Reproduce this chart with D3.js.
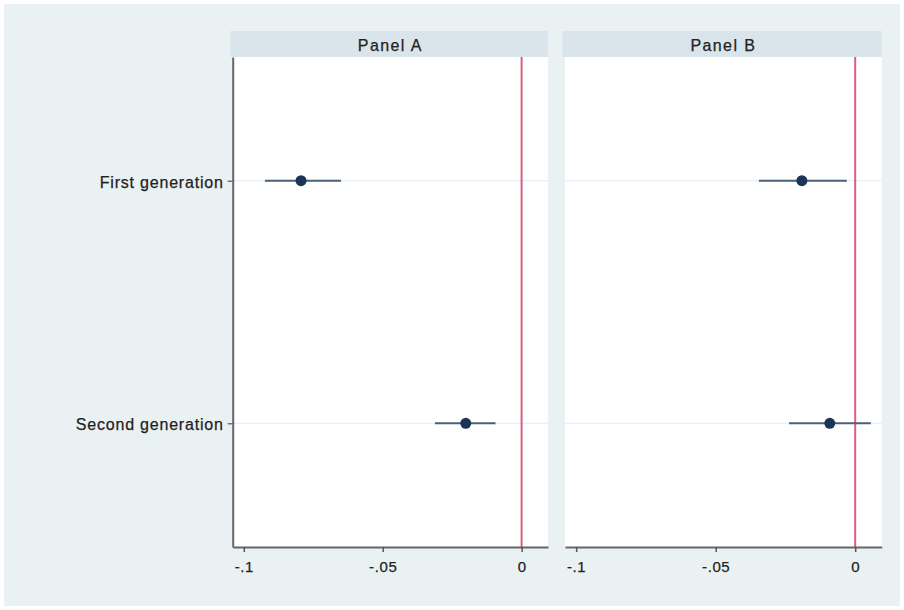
<!DOCTYPE html>
<html><head><meta charset="utf-8">
<script src="https://cdn.jsdelivr.net/npm/d3@7"></script>
<style>html,body{margin:0;padding:0;background:#fff;}svg{display:block;}</style>
</head><body>
<script>
const categories = ["First generation", "Second generation"];
const panels = ["Panel A", "Panel B"];
const estA = [-0.0794, -0.0201];
const loA  = [-0.0924, -0.0312];
const hiA  = [-0.0650, -0.0094];
const estB = [-0.0191, -0.0091];
const loB  = [-0.0345, -0.0237];
const hiB  = [-0.0030, 0.0056];
const xTicks = [-0.1, -0.05, 0];
const xTickLabels = ["-.1", "-.05", "0"];
const refValue = 0;

(function () {
const W = 904, H = 610;
const svg = d3.select("body").append("svg").attr("width", W).attr("height", H);
svg.append("rect").attr("x", 4).attr("y", 4).attr("width", W - 8).attr("height", H - 8).attr("fill", "#eaf1f3");

const font = "'Liberation Sans', Arial, Helvetica, sans-serif";
const plotTop = 57, plotBottom = 547;
const panelX = [[232.7, 548], [565, 881.7]];
const series = [
  {est: estA, lo: loA, hi: hiA},
  {est: estB, lo: loB, hi: hiB}
];
const y = d3.scalePoint().domain(categories).range([plotTop, plotBottom]).padding(0.51);

panels.forEach((p, i) => {
  const [x0, x1] = panelX[i];
  const x = d3.scaleLinear().domain([-0.104, 0.0095]).range([x0, x1]);
  const g = svg.append("g");
  g.append("rect").attr("x", x0 - 2.5).attr("y", 31).attr("width", x1 - x0 + 2.5).attr("height", plotTop - 31).attr("fill", "#d9e5eb");
  g.append("text").attr("x", (x0 + x1) / 2).attr("y", 51).attr("text-anchor", "middle")
    .attr("font-family", font).attr("font-size", 16).attr("letter-spacing", 1.4).attr("fill", "#222")
    .attr("stroke", "#222").attr("stroke-width", 0.25).text(p);
  g.append("rect").attr("x", x0).attr("y", plotTop).attr("width", x1 - x0).attr("height", plotBottom - plotTop).attr("fill", "#fff");
  g.selectAll(".grid").data(categories).enter().append("line")
    .attr("x1", x0).attr("x2", x1).attr("y1", d => y(d)).attr("y2", d => y(d))
    .attr("stroke", "#e9eff3").attr("stroke-width", 1.2);
  g.append("line").attr("x1", x(refValue)).attr("x2", x(refValue)).attr("y1", plotTop).attr("y2", plotBottom)
    .attr("stroke", "#d9607c").attr("stroke-width", 2);
  const s = series[i];
  g.selectAll(".ci").data(categories).enter().append("line")
    .attr("x1", (d, j) => x(s.lo[j])).attr("x2", (d, j) => x(s.hi[j]))
    .attr("y1", d => y(d)).attr("y2", d => y(d))
    .attr("stroke", "#4a6078").attr("stroke-width", 2);
  g.selectAll(".pt").data(categories).enter().append("circle")
    .attr("cx", (d, j) => x(s.est[j])).attr("cy", d => y(d)).attr("r", 5.5)
    .attr("fill", "#1b3557");
  const xa = g.append("g").attr("transform", `translate(0,${plotBottom})`)
    .call(d3.axisBottom(x).tickValues(xTicks).tickFormat((d, j) => xTickLabels[j]).tickSize(5).tickSizeOuter(0).tickPadding(8));
  xa.select(".domain").attr("stroke", "#666").attr("stroke-width", 2);
  xa.selectAll(".tick line").attr("stroke", "#555").attr("stroke-width", 1.5);
  xa.selectAll(".tick text").attr("font-family", font).attr("font-size", 15).attr("letter-spacing", 0.6)
    .attr("fill", "#222").attr("stroke", "#222").attr("stroke-width", 0.25).attr("dy", "0.8em");
  if (i === 0) {
    const ya = g.append("g").attr("transform", `translate(${x0},0)`)
      .call(d3.axisLeft(y).tickSize(5).tickSizeOuter(0).tickPadding(4));
    ya.select(".domain").attr("stroke", "#666").attr("stroke-width", 2);
    ya.selectAll(".tick line").attr("stroke", "#555").attr("stroke-width", 1.2);
    ya.selectAll(".tick text").attr("font-family", font).attr("font-size", 16).attr("letter-spacing", 0.8)
      .attr("fill", "#222").attr("stroke", "#222").attr("stroke-width", 0.25).attr("dy", "0.4em");
  }
});
})();
</script>
</body></html>
